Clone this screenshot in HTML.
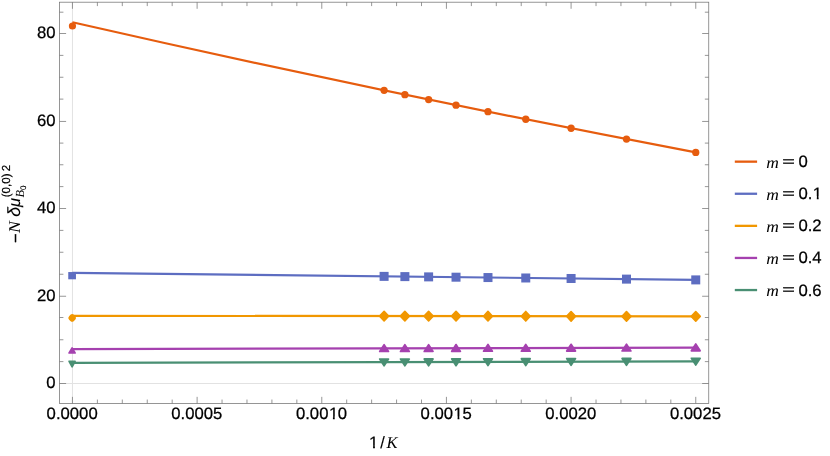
<!DOCTYPE html>
<html><head><meta charset="utf-8"><title>Plot</title>
<style>html,body{margin:0;padding:0;background:#fff;}svg{display:block;will-change:transform;}</style>
</head><body>
<svg width="830" height="456" viewBox="0 0 830 456" text-rendering="geometricPrecision">
<rect width="830" height="456" fill="#fff"/>
<g stroke="#e2e2e2" stroke-width="1" fill="none">
<line x1="72.45" y1="2.2" x2="72.45" y2="403.45"/>
<line x1="59.5" y1="383.5" x2="708.75" y2="383.5"/>
</g>
<g fill="none" stroke-width="2.2" stroke-linecap="butt">
<path d="M72.45 22.20 Q384.10 93.33 695.75 152.38" stroke="#E65C0E"/>
<line x1="72.45" y1="272.8" x2="695.75" y2="279.85" stroke="#5D6DC1"/>
<line x1="72.45" y1="315.8" x2="695.75" y2="316.4" stroke="#F19700"/>
<line x1="72.45" y1="349.1" x2="695.75" y2="347.7" stroke="#A541AF"/>
<line x1="72.45" y1="362.9" x2="695.75" y2="361.3" stroke="#498F73"/>
</g>
<g fill="#E65C0E">
<circle cx="72.45" cy="26.0" r="3.6"/>
<circle cx="384.10" cy="90.31" r="3.65"/>
<circle cx="404.88" cy="94.64" r="3.65"/>
<circle cx="428.62" cy="99.55" r="3.65"/>
<circle cx="456.02" cy="105.17" r="3.65"/>
<circle cx="487.98" cy="111.67" r="3.65"/>
<circle cx="525.76" cy="119.27" r="3.65"/>
<circle cx="571.09" cy="128.27" r="3.65"/>
<circle cx="626.49" cy="139.11" r="3.65"/>
<circle cx="695.75" cy="152.38" r="3.65"/>
</g>
<g fill="#5D6DC1">
<rect x="68.25" y="272.05" width="7.7" height="7.25"/>
<rect x="379.60" y="271.88" width="9.0" height="9.0"/>
<rect x="400.38" y="272.11" width="9.0" height="9.0"/>
<rect x="424.12" y="272.38" width="9.0" height="9.0"/>
<rect x="451.52" y="272.69" width="9.0" height="9.0"/>
<rect x="483.48" y="273.05" width="9.0" height="9.0"/>
<rect x="521.26" y="273.48" width="9.0" height="9.0"/>
<rect x="566.59" y="273.99" width="9.0" height="9.0"/>
<rect x="621.99" y="274.62" width="9.0" height="9.0"/>
<rect x="691.25" y="275.40" width="9.0" height="9.0"/>
</g>
<g fill="#F19700" stroke="#F19700" stroke-width="1.6" stroke-linejoin="round">
<path d="M70.85 317.9l1.3 -1.3l1.3 1.3l-1.3 1.3Z" stroke-width="5"/>
<path d="M379.60 316.10L384.10 311.30L388.60 316.10L384.10 320.90Z"/>
<path d="M400.38 316.12L404.88 311.32L409.38 316.12L404.88 320.92Z"/>
<path d="M424.12 316.14L428.62 311.34L433.12 316.14L428.62 320.94Z"/>
<path d="M451.52 316.17L456.02 311.37L460.52 316.17L456.02 320.97Z"/>
<path d="M483.48 316.20L487.98 311.40L492.48 316.20L487.98 321.00Z"/>
<path d="M521.26 316.24L525.76 311.44L530.26 316.24L525.76 321.04Z"/>
<path d="M566.59 316.28L571.09 311.48L575.59 316.28L571.09 321.08Z"/>
<path d="M621.99 316.33L626.49 311.53L630.99 316.33L626.49 321.13Z"/>
<path d="M691.25 316.40L695.75 311.60L700.25 316.40L695.75 321.20Z"/>
</g>
<g fill="#A541AF" stroke="#A541AF" stroke-width="1.7" stroke-linejoin="round">
<path d="M69.10 352.90L72.10 347.90L75.10 352.90Z"/>
<path d="M379.70 351.50L384.10 344.70L388.50 351.50Z"/>
<path d="M400.48 351.45L404.88 344.65L409.28 351.45Z"/>
<path d="M424.22 351.40L428.62 344.60L433.02 351.40Z"/>
<path d="M451.62 351.34L456.02 344.54L460.42 351.34Z"/>
<path d="M483.58 351.27L487.98 344.47L492.38 351.27Z"/>
<path d="M521.36 351.18L525.76 344.38L530.16 351.18Z"/>
<path d="M566.69 351.08L571.09 344.28L575.49 351.08Z"/>
<path d="M622.09 350.96L626.49 344.16L630.89 350.96Z"/>
<path d="M691.35 350.80L695.75 344.00L700.15 350.80Z"/>
</g>
<g fill="#498F73" stroke="#498F73" stroke-width="1.7" stroke-linejoin="round">
<path d="M69.10 361.35L75.10 361.35L72.10 366.75Z"/>
<path d="M379.70 359.05L388.50 359.05L384.10 365.85Z"/>
<path d="M400.48 359.00L409.28 359.00L404.88 365.80Z"/>
<path d="M424.22 358.94L433.02 358.94L428.62 365.74Z"/>
<path d="M451.62 358.87L460.42 358.87L456.02 365.67Z"/>
<path d="M483.58 358.78L492.38 358.78L487.98 365.58Z"/>
<path d="M521.36 358.69L530.16 358.69L525.76 365.49Z"/>
<path d="M566.69 358.57L575.49 358.57L571.09 365.37Z"/>
<path d="M622.09 358.43L630.89 358.43L626.49 365.23Z"/>
<path d="M691.35 358.25L700.15 358.25L695.75 365.05Z"/>
</g>
<g stroke="#757575" stroke-width="0.76" fill="none">
<rect x="59.5" y="2.2" width="649.25" height="401.25"/>
<line x1="72.45" y1="403.45" x2="72.45" y2="396.85"/>
<line x1="72.45" y1="2.2" x2="72.45" y2="8.80"/>
<line x1="97.38" y1="403.45" x2="97.38" y2="399.55"/>
<line x1="97.38" y1="2.2" x2="97.38" y2="6.10"/>
<line x1="122.31" y1="403.45" x2="122.31" y2="399.55"/>
<line x1="122.31" y1="2.2" x2="122.31" y2="6.10"/>
<line x1="147.25" y1="403.45" x2="147.25" y2="399.55"/>
<line x1="147.25" y1="2.2" x2="147.25" y2="6.10"/>
<line x1="172.18" y1="403.45" x2="172.18" y2="399.55"/>
<line x1="172.18" y1="2.2" x2="172.18" y2="6.10"/>
<line x1="197.11" y1="403.45" x2="197.11" y2="396.85"/>
<line x1="197.11" y1="2.2" x2="197.11" y2="8.80"/>
<line x1="222.04" y1="403.45" x2="222.04" y2="399.55"/>
<line x1="222.04" y1="2.2" x2="222.04" y2="6.10"/>
<line x1="246.97" y1="403.45" x2="246.97" y2="399.55"/>
<line x1="246.97" y1="2.2" x2="246.97" y2="6.10"/>
<line x1="271.91" y1="403.45" x2="271.91" y2="399.55"/>
<line x1="271.91" y1="2.2" x2="271.91" y2="6.10"/>
<line x1="296.84" y1="403.45" x2="296.84" y2="399.55"/>
<line x1="296.84" y1="2.2" x2="296.84" y2="6.10"/>
<line x1="321.77" y1="403.45" x2="321.77" y2="396.85"/>
<line x1="321.77" y1="2.2" x2="321.77" y2="8.80"/>
<line x1="346.70" y1="403.45" x2="346.70" y2="399.55"/>
<line x1="346.70" y1="2.2" x2="346.70" y2="6.10"/>
<line x1="371.63" y1="403.45" x2="371.63" y2="399.55"/>
<line x1="371.63" y1="2.2" x2="371.63" y2="6.10"/>
<line x1="396.57" y1="403.45" x2="396.57" y2="399.55"/>
<line x1="396.57" y1="2.2" x2="396.57" y2="6.10"/>
<line x1="421.50" y1="403.45" x2="421.50" y2="399.55"/>
<line x1="421.50" y1="2.2" x2="421.50" y2="6.10"/>
<line x1="446.43" y1="403.45" x2="446.43" y2="396.85"/>
<line x1="446.43" y1="2.2" x2="446.43" y2="8.80"/>
<line x1="471.36" y1="403.45" x2="471.36" y2="399.55"/>
<line x1="471.36" y1="2.2" x2="471.36" y2="6.10"/>
<line x1="496.29" y1="403.45" x2="496.29" y2="399.55"/>
<line x1="496.29" y1="2.2" x2="496.29" y2="6.10"/>
<line x1="521.23" y1="403.45" x2="521.23" y2="399.55"/>
<line x1="521.23" y1="2.2" x2="521.23" y2="6.10"/>
<line x1="546.16" y1="403.45" x2="546.16" y2="399.55"/>
<line x1="546.16" y1="2.2" x2="546.16" y2="6.10"/>
<line x1="571.09" y1="403.45" x2="571.09" y2="396.85"/>
<line x1="571.09" y1="2.2" x2="571.09" y2="8.80"/>
<line x1="596.02" y1="403.45" x2="596.02" y2="399.55"/>
<line x1="596.02" y1="2.2" x2="596.02" y2="6.10"/>
<line x1="620.95" y1="403.45" x2="620.95" y2="399.55"/>
<line x1="620.95" y1="2.2" x2="620.95" y2="6.10"/>
<line x1="645.89" y1="403.45" x2="645.89" y2="399.55"/>
<line x1="645.89" y1="2.2" x2="645.89" y2="6.10"/>
<line x1="670.82" y1="403.45" x2="670.82" y2="399.55"/>
<line x1="670.82" y1="2.2" x2="670.82" y2="6.10"/>
<line x1="695.75" y1="403.45" x2="695.75" y2="396.85"/>
<line x1="695.75" y1="2.2" x2="695.75" y2="8.80"/>
<line x1="59.5" y1="383.50" x2="66.10" y2="383.50"/>
<line x1="708.75" y1="383.50" x2="702.15" y2="383.50"/>
<line x1="59.5" y1="361.62" x2="63.40" y2="361.62"/>
<line x1="708.75" y1="361.62" x2="704.85" y2="361.62"/>
<line x1="59.5" y1="339.75" x2="63.40" y2="339.75"/>
<line x1="708.75" y1="339.75" x2="704.85" y2="339.75"/>
<line x1="59.5" y1="317.50" x2="63.40" y2="317.50"/>
<line x1="708.75" y1="317.50" x2="704.85" y2="317.50"/>
<line x1="59.5" y1="296.25" x2="66.10" y2="296.25"/>
<line x1="708.75" y1="296.25" x2="702.15" y2="296.25"/>
<line x1="59.5" y1="274.25" x2="63.40" y2="274.25"/>
<line x1="708.75" y1="274.25" x2="704.85" y2="274.25"/>
<line x1="59.5" y1="252.25" x2="63.40" y2="252.25"/>
<line x1="708.75" y1="252.25" x2="704.85" y2="252.25"/>
<line x1="59.5" y1="230.38" x2="63.40" y2="230.38"/>
<line x1="708.75" y1="230.38" x2="704.85" y2="230.38"/>
<line x1="59.5" y1="208.50" x2="66.10" y2="208.50"/>
<line x1="708.75" y1="208.50" x2="702.15" y2="208.50"/>
<line x1="59.5" y1="186.62" x2="63.40" y2="186.62"/>
<line x1="708.75" y1="186.62" x2="704.85" y2="186.62"/>
<line x1="59.5" y1="164.75" x2="63.40" y2="164.75"/>
<line x1="708.75" y1="164.75" x2="704.85" y2="164.75"/>
<line x1="59.5" y1="143.10" x2="63.40" y2="143.10"/>
<line x1="708.75" y1="143.10" x2="704.85" y2="143.10"/>
<line x1="59.5" y1="121.45" x2="66.10" y2="121.45"/>
<line x1="708.75" y1="121.45" x2="702.15" y2="121.45"/>
<line x1="59.5" y1="99.12" x2="63.40" y2="99.12"/>
<line x1="708.75" y1="99.12" x2="704.85" y2="99.12"/>
<line x1="59.5" y1="77.25" x2="63.40" y2="77.25"/>
<line x1="708.75" y1="77.25" x2="704.85" y2="77.25"/>
<line x1="59.5" y1="55.38" x2="63.40" y2="55.38"/>
<line x1="708.75" y1="55.38" x2="704.85" y2="55.38"/>
<line x1="59.5" y1="33.50" x2="66.10" y2="33.50"/>
<line x1="708.75" y1="33.50" x2="702.15" y2="33.50"/>
<line x1="59.5" y1="12.20" x2="63.40" y2="12.20"/>
<line x1="708.75" y1="12.20" x2="704.85" y2="12.20"/>
</g>
<defs><clipPath id="c1"><path d="M-2 -18H14V-3H5.772V2H3.984V-3H-2Z"/></clipPath></defs>
<g fill="#000" style="font-kerning:none">
<text transform="translate(46.61 419.45) scale(1.012 1.0)" font-family="'Liberation Sans', sans-serif" font-size="16.5" stroke="#000" stroke-width="0.250">0.0000</text>
<text transform="translate(171.27 419.45) scale(1.012 1.0)" font-family="'Liberation Sans', sans-serif" font-size="16.5" stroke="#000" stroke-width="0.250">0.0005</text>
<text transform="translate(295.93 419.45) scale(1.012 1.0)" font-family="'Liberation Sans', sans-serif" font-size="16.5" stroke="#000" stroke-width="0.250">0.00</text>
<text transform="translate(328.88 419.45) scale(1.012 1.0)" font-family="'Liberation Sans', sans-serif" font-size="16.5" stroke="#000" stroke-width="0.250" clip-path="url(#c1)">1</text>
<text transform="translate(337.72 419.45) scale(1.012 1.0)" font-family="'Liberation Sans', sans-serif" font-size="16.5" stroke="#000" stroke-width="0.250">0</text>
<text transform="translate(420.59 419.45) scale(1.012 1.0)" font-family="'Liberation Sans', sans-serif" font-size="16.5" stroke="#000" stroke-width="0.250">0.00</text>
<text transform="translate(453.54 419.45) scale(1.012 1.0)" font-family="'Liberation Sans', sans-serif" font-size="16.5" stroke="#000" stroke-width="0.250" clip-path="url(#c1)">1</text>
<text transform="translate(462.38 419.45) scale(1.012 1.0)" font-family="'Liberation Sans', sans-serif" font-size="16.5" stroke="#000" stroke-width="0.250">5</text>
<text transform="translate(545.25 419.45) scale(1.012 1.0)" font-family="'Liberation Sans', sans-serif" font-size="16.5" stroke="#000" stroke-width="0.250">0.0020</text>
<text transform="translate(669.91 419.45) scale(1.012 1.0)" font-family="'Liberation Sans', sans-serif" font-size="16.5" stroke="#000" stroke-width="0.250">0.0025</text>
<text transform="translate(46.21 388.00) scale(1.012 1.0)" font-family="'Liberation Sans', sans-serif" font-size="16.5" stroke="#000" stroke-width="0.250">0</text>
<text transform="translate(36.93 300.60) scale(1.012 1.0)" font-family="'Liberation Sans', sans-serif" font-size="16.5" stroke="#000" stroke-width="0.250">20</text>
<text transform="translate(36.93 213.20) scale(1.012 1.0)" font-family="'Liberation Sans', sans-serif" font-size="16.5" stroke="#000" stroke-width="0.250">40</text>
<text transform="translate(36.93 125.80) scale(1.012 1.0)" font-family="'Liberation Sans', sans-serif" font-size="16.5" stroke="#000" stroke-width="0.250">60</text>
<text transform="translate(36.93 38.40) scale(1.012 1.0)" font-family="'Liberation Sans', sans-serif" font-size="16.5" stroke="#000" stroke-width="0.250">80</text>
<text transform="translate(369.05 448.00) scale(1.012 1.0)" font-family="'Liberation Sans', sans-serif" font-size="16.5" stroke="#000" stroke-width="0.250" clip-path="url(#c1)">1</text>
<text transform="translate(380.20 448.00) scale(1.0 1.0)" font-family="'Liberation Sans', sans-serif" font-size="16.5" stroke="#000" stroke-width="0.100">/</text>
<text transform="translate(386.60 448.20) scale(1.0 1)" font-size="16.5" font-family="'Liberation Serif', serif" font-style="italic">K</text>
<text transform="translate(766.20 168.05) scale(1.06 1)" font-size="16.5" font-family="'Liberation Serif', serif" font-style="italic">m</text>
<text transform="translate(782.30 166.00) scale(1.31 0.84)" font-family="'Liberation Sans', sans-serif" font-size="16.5" stroke="#000" stroke-width="0.320">=</text>
<text transform="translate(798.40 167.10) scale(1.012 1.0)" font-family="'Liberation Sans', sans-serif" font-size="16.5" stroke="#000" stroke-width="0.250">0</text>
<text transform="translate(766.20 200.15) scale(1.06 1)" font-size="16.5" font-family="'Liberation Serif', serif" font-style="italic">m</text>
<text transform="translate(782.30 198.10) scale(1.31 0.84)" font-family="'Liberation Sans', sans-serif" font-size="16.5" stroke="#000" stroke-width="0.320">=</text>
<text transform="translate(798.40 199.20) scale(1.012 1.0)" font-family="'Liberation Sans', sans-serif" font-size="16.5" stroke="#000" stroke-width="0.250">0.</text>
<text transform="translate(812.78 199.20) scale(1.012 1.0)" font-family="'Liberation Sans', sans-serif" font-size="16.5" stroke="#000" stroke-width="0.250" clip-path="url(#c1)">1</text>
<text transform="translate(766.20 232.25) scale(1.06 1)" font-size="16.5" font-family="'Liberation Serif', serif" font-style="italic">m</text>
<text transform="translate(782.30 230.20) scale(1.31 0.84)" font-family="'Liberation Sans', sans-serif" font-size="16.5" stroke="#000" stroke-width="0.320">=</text>
<text transform="translate(798.40 231.30) scale(1.012 1.0)" font-family="'Liberation Sans', sans-serif" font-size="16.5" stroke="#000" stroke-width="0.250">0.2</text>
<text transform="translate(766.20 264.35) scale(1.06 1)" font-size="16.5" font-family="'Liberation Serif', serif" font-style="italic">m</text>
<text transform="translate(782.30 262.30) scale(1.31 0.84)" font-family="'Liberation Sans', sans-serif" font-size="16.5" stroke="#000" stroke-width="0.320">=</text>
<text transform="translate(798.40 263.40) scale(1.012 1.0)" font-family="'Liberation Sans', sans-serif" font-size="16.5" stroke="#000" stroke-width="0.250">0.4</text>
<text transform="translate(766.20 296.45) scale(1.06 1)" font-size="16.5" font-family="'Liberation Serif', serif" font-style="italic">m</text>
<text transform="translate(782.30 294.40) scale(1.31 0.84)" font-family="'Liberation Sans', sans-serif" font-size="16.5" stroke="#000" stroke-width="0.320">=</text>
<text transform="translate(798.40 295.50) scale(1.012 1.0)" font-family="'Liberation Sans', sans-serif" font-size="16.5" stroke="#000" stroke-width="0.250">0.6</text>
</g>
<g transform="translate(19.6 242) rotate(-90)" fill="#000">
<text x="-1.1" y="1.4" font-family="'Liberation Sans', sans-serif" font-size="16.5" stroke="#000" stroke-width="0.250">−</text>
<text transform="translate(9.1 0) scale(1.08 1)" font-family="'Liberation Serif', serif" font-style="italic" font-size="16.5">N</text>
<text x="25.2" y="0.3" font-family="'Liberation Sans', sans-serif" font-size="17.6" stroke="#000" stroke-width="0.080" font-style="italic">δ</text>
<text x="35.0" y="0" font-family="'Liberation Sans', sans-serif" font-size="16.5" stroke="#000" stroke-width="0.080" font-style="italic">μ</text>
<text x="44.7" y="-9.8" font-family="'Liberation Sans', sans-serif" font-size="11.6" stroke="#000" stroke-width="0.176">(0,0)</text>
<text x="70.7" y="-9.8" font-family="'Liberation Sans', sans-serif" font-size="11.6" stroke="#000" stroke-width="0.176">2</text>
<text x="44.4" y="4.1" font-family="'Liberation Serif', serif" font-style="italic" font-size="12.4">B</text>
<text x="51.9" y="6.5" font-family="'Liberation Sans', sans-serif" font-size="8" stroke="#000" stroke-width="0.121">0</text>
</g>
<g stroke-width="2.3" fill="none">
<line x1="734.8" y1="161.65" x2="757.1" y2="161.65" stroke="#E65C0E"/>
<line x1="734.8" y1="193.75" x2="757.1" y2="193.75" stroke="#5D6DC1"/>
<line x1="734.8" y1="225.85" x2="757.1" y2="225.85" stroke="#F19700"/>
<line x1="734.8" y1="257.95" x2="757.1" y2="257.95" stroke="#A541AF"/>
<line x1="734.8" y1="290.05" x2="757.1" y2="290.05" stroke="#498F73"/>
</g>
</svg>
</body></html>
